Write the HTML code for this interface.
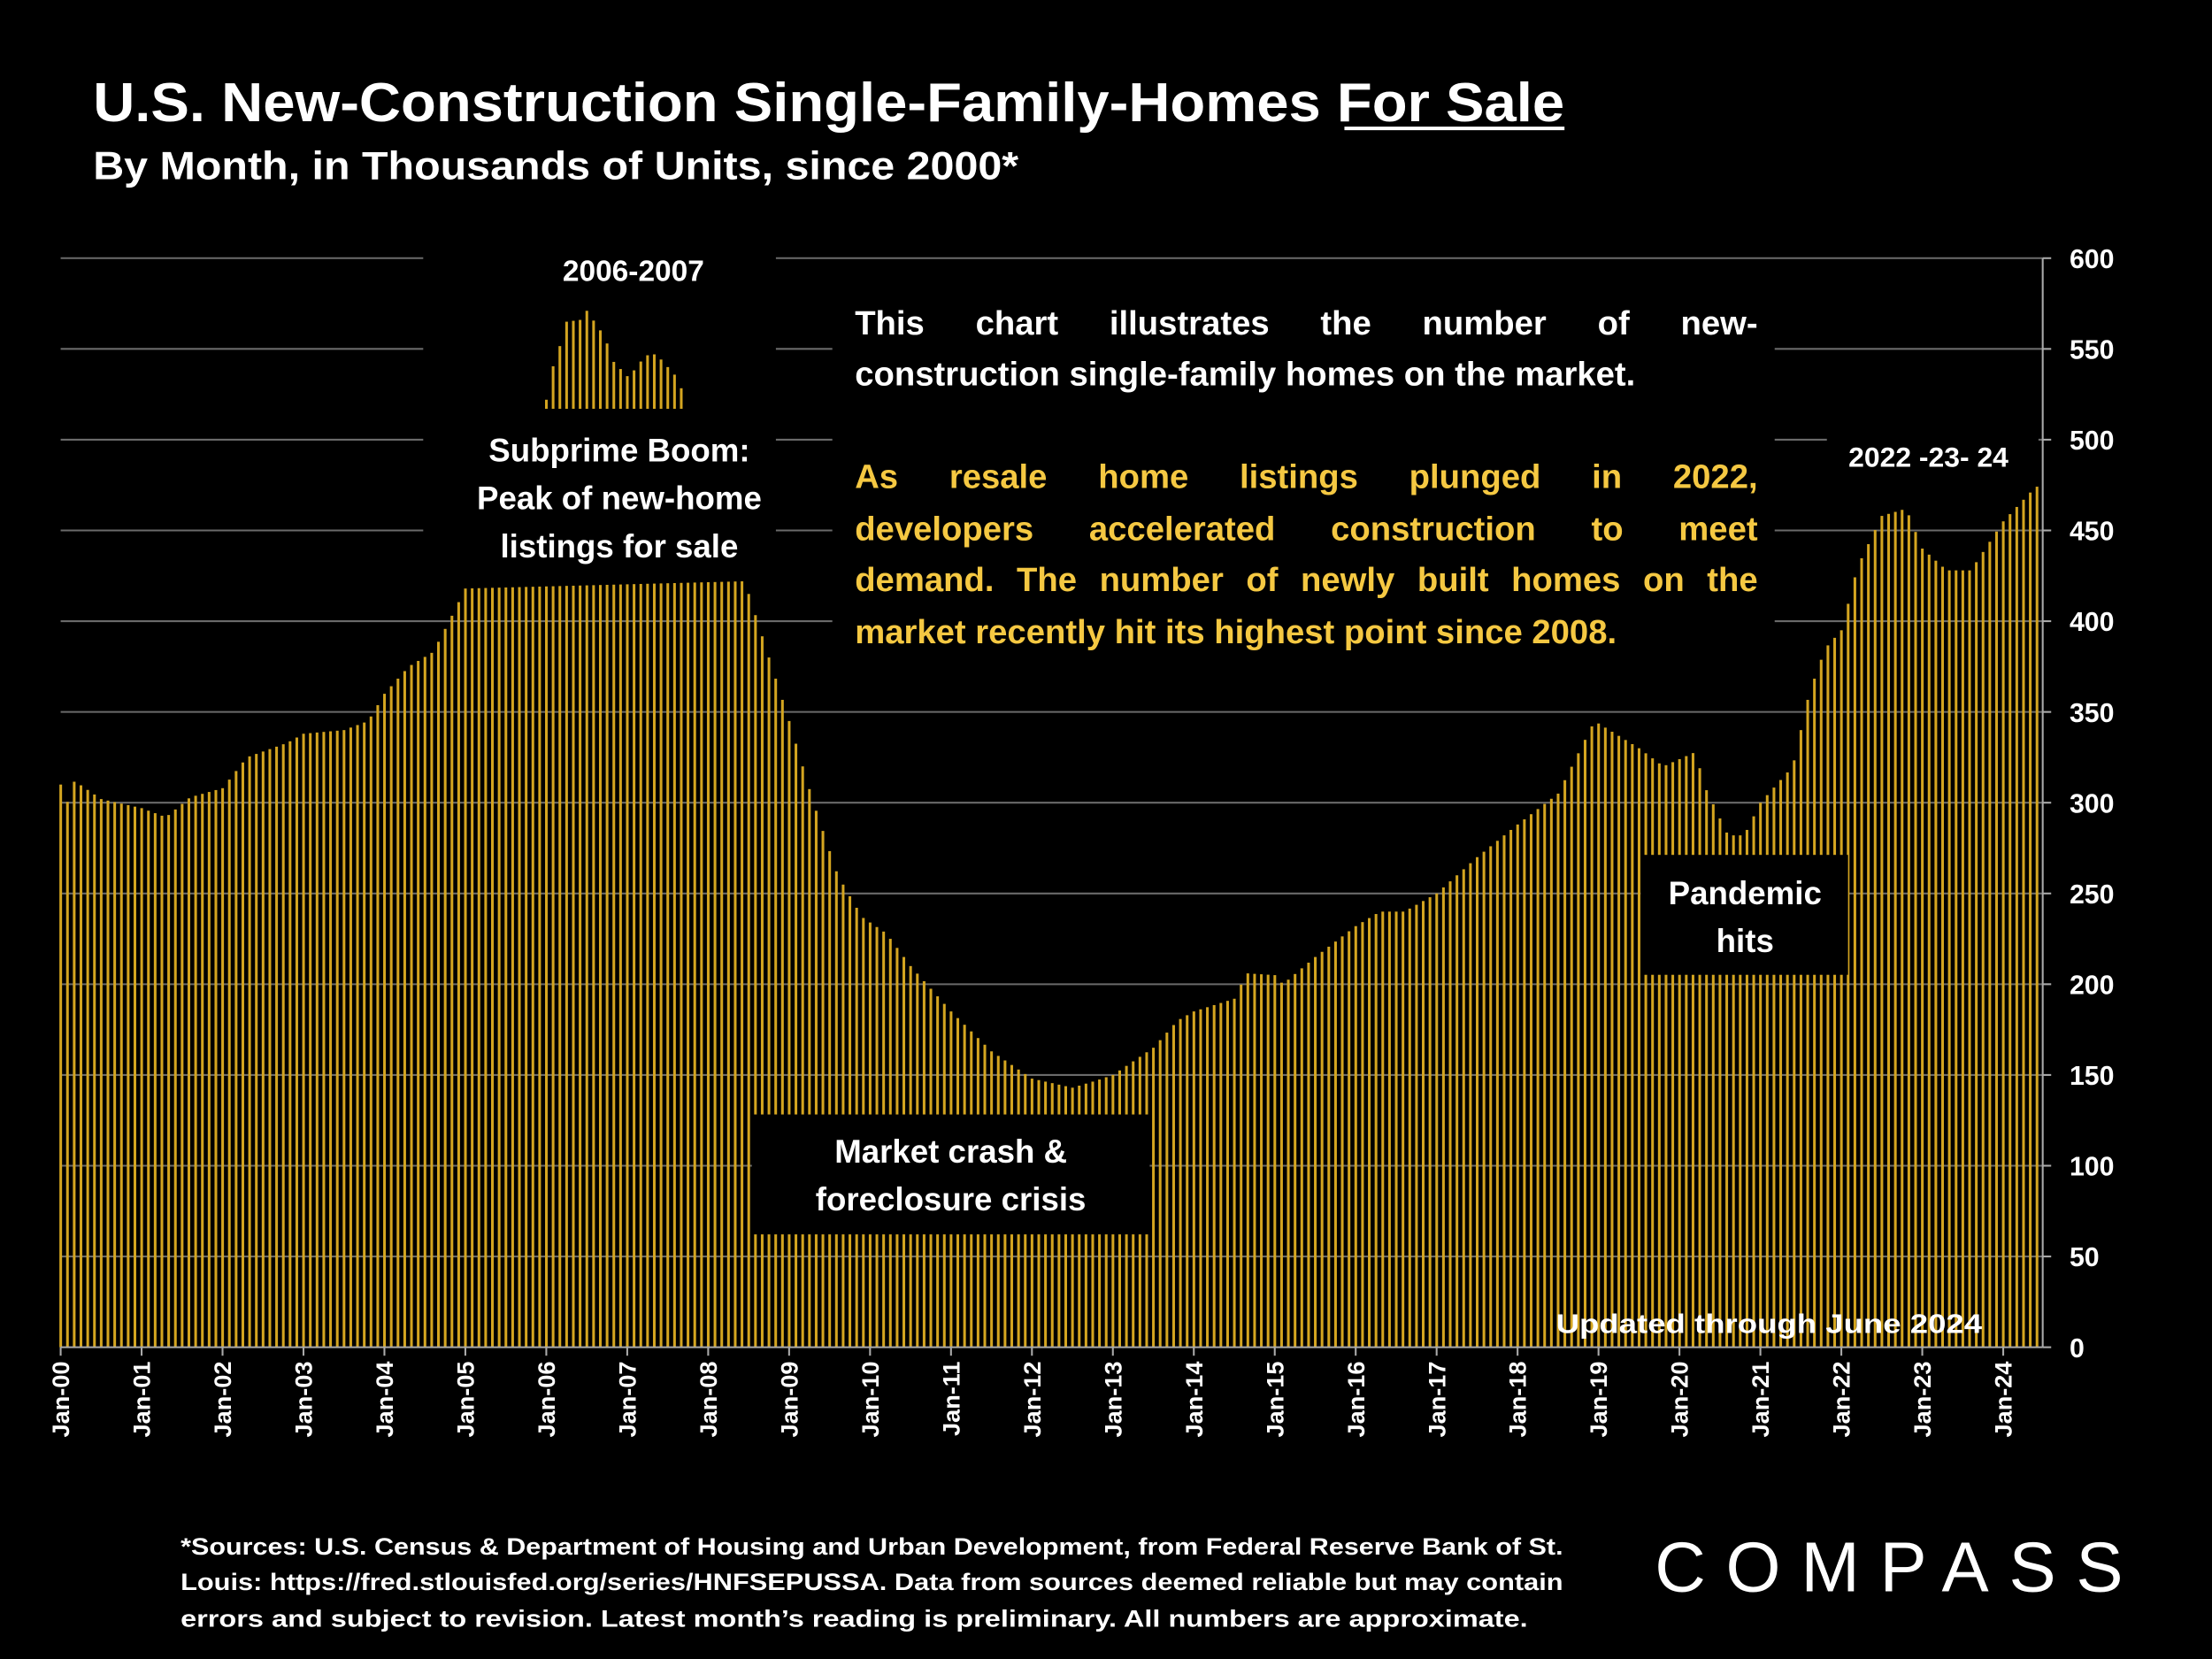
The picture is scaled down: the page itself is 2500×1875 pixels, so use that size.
<!DOCTYPE html>
<html><head><meta charset="utf-8"><style>
html,body{margin:0;padding:0;background:#000;}
svg{display:block;}
text{font-family:"Liberation Sans",sans-serif;font-weight:bold;fill:#fff;}
</style></head><body>
<svg id="s" width="2500" height="1875" viewBox="0 0 1568 1176" xmlns="http://www.w3.org/2000/svg">
<rect width="1568" height="1176" fill="#000"/>
<g id="grid"></g>
<g id="bars"></g>
<rect x="300" y="175" width="250" height="235" fill="#000"/>
<rect x="590" y="200" width="668" height="272" fill="#000"/>
<rect x="1295" y="305" width="150" height="40" fill="#000"/>
<rect x="1163" y="606" width="147" height="85" fill="#000"/>
<rect x="533" y="790" width="282" height="85" fill="#000"/>
<rect x="365" y="175" width="168" height="30" fill="#000"/>
<g id="mini"></g>
<g id="axis"></g>
<text x="66" y="86" font-size="39" textLength="1043" lengthAdjust="spacingAndGlyphs">U.S. New-Construction Single-Family-Homes For Sale</text>
<line x1="953" y1="91" x2="1109" y2="91" stroke="#fff" stroke-width="2.5"/>
<text x="66" y="127" font-size="28" textLength="656" lengthAdjust="spacingAndGlyphs">By Month, in Thousands of Units, since 2000*</text>
<text x="449" y="199" font-size="21" text-anchor="middle">2006-2007</text>
<text x="439" y="327" font-size="23" text-anchor="middle">Subprime Boom:</text>
<text x="439" y="361" font-size="23" text-anchor="middle">Peak of new-home</text>
<text x="439" y="395" font-size="23" text-anchor="middle">listings for sale</text>
<g id="para"></g>
<text x="1367" y="331" font-size="20" text-anchor="middle">2022 -23- 24</text>
<text x="1237" y="641" font-size="23" text-anchor="middle">Pandemic</text>
<text x="1237" y="675" font-size="23" text-anchor="middle">hits</text>
<text x="674" y="824" font-size="23" text-anchor="middle">Market crash &amp;</text>
<text x="674" y="858" font-size="23" text-anchor="middle">foreclosure crisis</text>
<text x="1405" y="945" font-size="19" text-anchor="end" textLength="302" lengthAdjust="spacingAndGlyphs">Updated through June 2024</text>
<text x="128" y="1102" font-size="17" textLength="980" lengthAdjust="spacingAndGlyphs">*Sources: U.S. Census &amp; Department of Housing and Urban Development, from Federal Reserve Bank of St.</text>
<text x="128" y="1127" font-size="17" textLength="980" lengthAdjust="spacingAndGlyphs">Louis:  https://fred.stlouisfed.org/series/HNFSEPUSSA. Data from sources deemed reliable but may contain</text>
<text x="128" y="1153" font-size="17" textLength="955" lengthAdjust="spacingAndGlyphs">errors and subject to revision. Latest month’s reading is preliminary. All numbers are approximate.</text>
<text x="1173" y="1128" font-size="50" style="font-weight:normal" textLength="332" lengthAdjust="spacing">COMPASS</text>
</svg>
<script>
const NS="http://www.w3.org/2000/svg";
function el(p,t,a){const e=document.createElementNS(NS,t);for(const k in a)e.setAttribute(k,a[k]);document.getElementById(p).appendChild(e);return e;}
const X0=43,STEP=57.375/12,Y0=955,PU=(955-183)/600;
const yv=v=>Y0-v*PU;
for(let v=50;v<=600;v+=50){el("grid","line",{x1:43,x2:1448,y1:yv(v),y2:yv(v),stroke:"#6a6a6a","stroke-width":1.3});}
const kp=[[2000,310],[2000.08,300],[2000.17,312],[2000.5,302],[2001,297],[2001.3,292],[2001.6,303],[2002,308],[2002.3,325],[2002.8,333],[2003,338],[2003.5,340],[2003.8,345],[2004,360],[2004.3,375],[2004.6,383],[2004.8,400],[2005,418],[2008.45,422],[2008.55,408],[2008.75,380],[2009,345],[2009.3,300],[2009.6,260],[2009.9,237],[2010.2,228],[2010.5,210],[2011,185],[2011.5,163],[2012,148],[2012.5,143],[2012.8,147],[2013,150],[2013.5,165],[2013.8,180],[2014,185],[2014.5,192],[2014.65,206],[2015,205],[2015.1,200],[2015.5,215],[2016,232],[2016.3,240],[2016.6,240],[2017,250],[2017.5,270],[2018,288],[2018.5,305],[2018.95,345],[2019.5,330],[2019.8,320],[2020.2,328],[2020.3,310],[2020.6,282],[2020.8,282],[2021,300],[2021.4,320],[2021.6,360],[2021.8,385],[2022,395],[2022.2,430],[2022.5,458],[2022.8,462],[2023,440],[2023.3,428],[2023.6,428],[2024,455],[2024.42,475]];
function interp(k,t){if(t<=k[0][0])return k[0][1];for(let i=1;i<k.length;i++){if(t<=k[i][0]){const a=k[i-1],b=k[i];return a[1]+(b[1]-a[1])*(t-a[0])/(b[0]-a[0]);}}return k[k.length-1][1];}
for(let m=0;m<294;m++){const t=2000+m/12;let v=interp(kp,t);if(t<2010)v=Math.min(422,v);const x=X0+m*STEP;el("bars","rect",{x:x-0.9,y:yv(v),width:1.9,height:v*PU,fill:"#d4a520"});}
const mk=[[2006,522],[2006.08,540],[2006.17,552],[2006.25,565],[2006.42,566],[2006.5,571],[2006.67,560],[2006.75,553],[2006.83,543],[2007,535],[2007.08,538],[2007.2,545],[2007.3,548],[2007.4,545],[2007.5,540],[2007.6,535],[2007.7,525]];
for(let m=72;m<=92;m++){const t=2000+m/12;const v=interp(mk,t);const x=X0+m*STEP;el("mini","rect",{x:x-0.9,y:yv(v),width:1.9,height:yv(517)-yv(v),fill:"#d4a520"});}
el("axis","line",{x1:1448,x2:1448,y1:183,y2:955,stroke:"#aaa","stroke-width":1.3});
el("axis","line",{x1:43,x2:1448,y1:955,y2:955,stroke:"#aaa","stroke-width":1.3});
for(let v=0;v<=600;v+=50){el("axis","line",{x1:1448,x2:1454,y1:yv(v),y2:yv(v),stroke:"#aaa","stroke-width":1.3});const t=el("axis","text",{x:1467,y:yv(v)+7,"font-size":19});t.textContent=v;}
for(let y=0;y<=24;y++){const x=X0+y*57.375;el("axis","line",{x1:x,x2:x,y1:955,y2:961,stroke:"#aaa","stroke-width":1.3});const t=el("axis","text",{x:0,y:0,"font-size":17,"text-anchor":"end",transform:`translate(${x+6},965) rotate(-90)`});t.textContent="Jan-"+String(y).padStart(2,"0");}
// justified paragraph
const lines=[["This chart illustrates the number of new-",237,"#fff",true],["construction single-family homes on the market.",273,"#fff",false],["As resale home listings plunged in 2022,",346,"#f5c842",true],["developers accelerated construction to meet",383,"#f5c842",true],["demand.  The number of newly built homes on the",419,"#f5c842",true],["market recently hit its highest point since 2008.",456,"#f5c842",false]];
const L=606,R=1246,FS=24;
for(const [s,y,c,j] of lines){
 if(!j){const t=el("para","text",{x:L,y:y,"font-size":FS,fill:c,style:"fill:"+c});t.textContent=s;const w=t.getComputedTextLength();if(w>R-L)t.setAttribute("textLength",R-L);continue;}
 const ws=s.split(/\s+/);const ts=[];let tot=0;
 for(const w of ws){const t=el("para","text",{x:0,y:y,"font-size":FS,style:"fill:"+c});t.textContent=w;const l=t.getComputedTextLength();ts.push([t,l]);tot+=l;}
 let sc=1;if(tot>(R-L)*0.95){sc=(R-L)*0.95/tot;}
 const gap=((R-L)-tot*sc)/(ws.length-1);let x=L;
 for(const [t,l] of ts){t.setAttribute("x",x);if(sc<1){t.setAttribute("textLength",l*sc);t.setAttribute("lengthAdjust","spacingAndGlyphs");}x+=l*sc+gap;}
}
</script>
</body></html>
